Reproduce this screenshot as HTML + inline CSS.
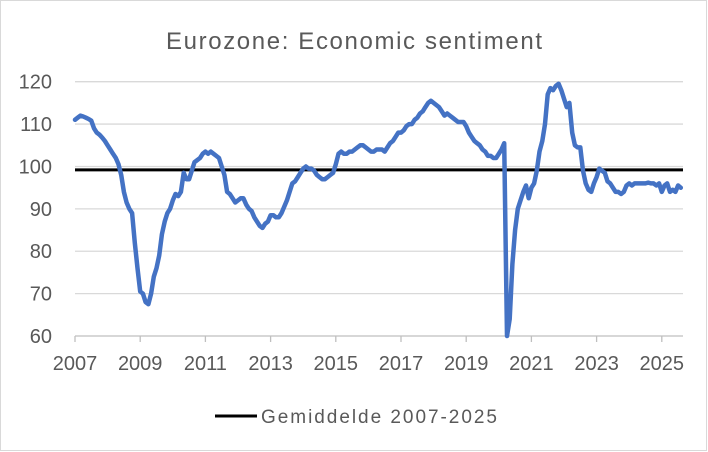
<!DOCTYPE html>
<html><head><meta charset="utf-8"><style>
html,body{margin:0;padding:0;background:#fff}
svg{display:block;font-family:"Liberation Sans",sans-serif}
</style></head><body>
<svg id="c" width="708" height="452" viewBox="0 0 708 452">
<rect x="0.5" y="0.5" width="706" height="450" fill="#fff" stroke="#d9d9d9"/>
<text x="166" y="49" font-size="24" textLength="376" lengthAdjust="spacing" fill="#595959">Eurozone: Economic sentiment</text>
<g id="grid"></g><g id="yt"></g><g id="xt"></g><g id="ser"></g>
<line x1="215" y1="416" x2="257" y2="416" stroke="#000" stroke-width="3"/>
<text x="261" y="423" font-size="19" textLength="236" lengthAdjust="spacing" fill="#595959">Gemiddelde 2007-2025</text>
</svg>
<script>
const startYear = 2007;
const yTicks = [60,70,80,90,100,110,120];
const xTickYears = [2007,2009,2011,2013,2015,2017,2019,2021,2023,2025];
const averageValue = [99.2];
const sentiment = [
111,111.5,112,111.8,111.5,111.2,110.8,109,108,107.5,106.8,106,
105,104,103,102,100.5,98,94,91.5,90,89,82,76,
70.5,70,68,67.5,70,74,76,79,84,87,89,90,
92,93.5,93,94,98.5,97,97,99,101,101.5,102,103,
103.5,103,103.5,103,102.5,102,100,98,94,93.5,92.5,91.5,
92,92.5,92.5,91,90,89.5,88,87,86,85.5,86.5,87,
88.5,88.5,88,88,89,90.5,92,94,96,96.5,97.5,98.5,
99.5,100,99.5,99.5,99,98,97.5,97,97,97.5,98,98.5,
100.5,103,103.5,103,103,103.5,103.5,104,104.5,105,105,104.5,
104,103.5,103.5,104,104,104,103.5,104.5,105.5,106,107,108,
108,108.5,109.5,110,110,111,111.5,112.5,113,114,115,115.5,
115,114.5,114,113,112,112.5,112,111.5,111,110.5,110.5,110.5,
109.5,108,107,106,105.5,105,104,103.5,102.5,102.5,102,102,
103,104,105.5,60,64,77,85,90,92,94,95.5,92.5,
95,96,99,103.5,106,110,117,118.5,118,119,119.5,118,
116,114,115,108,105,104.5,104.5,99,96,94.5,94,96,
97.5,99.5,99,98.5,96.5,96,95,94,94,93.5,94,95.5,
96,95.5,96,96,96,96,96,96.2,96,96,95.5,96,
94,95.5,96,94,94.5,94,95.5,95
];
const NS='http://www.w3.org/2000/svg';
const x0=75,x1=683,pxPerYear=32.6,yTop=81.7,yBot=336,yMin=60,yMax=120;
const xs=m=>x0+m/12*pxPerYear;
const ys=v=>yBot-(v-yMin)/(yMax-yMin)*(yBot-yTop);
function mk(t,a,p){const e=document.createElementNS(NS,t);for(const k in a)e.setAttribute(k,a[k]);p.appendChild(e);return e;}
const grid=document.getElementById('grid'),yt=document.getElementById('yt'),xt=document.getElementById('xt'),ser=document.getElementById('ser');
yTicks.forEach(v=>{
  const l=mk('line',{x1:x0,x2:x1,y1:ys(v),y2:ys(v),stroke:v===yMin?'#bfbfbf':'#d9d9d9','stroke-width':1.3},grid);
  
  
  const t=mk('text',{x:52,y:ys(v)+7,'text-anchor':'end','font-size':20,fill:'#595959'},yt);
  t.textContent=v;
  
  
});
xTickYears.forEach(yr=>{
  const x=xs((yr-startYear)*12);
  const l=mk('line',{x1:x,x2:x,y1:yBot,y2:yBot+6,stroke:'#bfbfbf','stroke-width':1.3},xt);
  
  
  const t=mk('text',{x:x,y:yBot+34,'text-anchor':'middle','font-size':20,fill:'#595959'},xt);
  t.textContent=yr;
  
  
});
const avg=mk('line',{x1:x0,x2:x1,y1:ys(averageValue[0]),y2:ys(averageValue[0]),stroke:'#000','stroke-width':3},ser);


const pts=sentiment.map((v,i)=>xs(i).toFixed(1)+','+ys(v).toFixed(1)).join(' ');
const pl=mk('polyline',{points:pts,fill:'none',stroke:'#4472C4','stroke-width':4.5,'stroke-linejoin':'round','stroke-linecap':'round'},ser);


</script>
</body></html>
